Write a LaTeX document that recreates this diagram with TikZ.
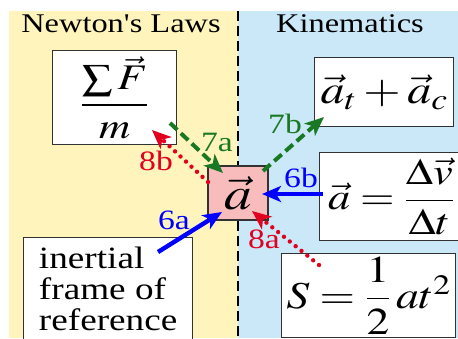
\documentclass[tikz,border=0pt]{standalone}
\usepackage{graphicx}
\usepackage{amsmath}
\usepackage{mathptmx}
\usepackage{fontspec}
\setmainfont{Liberation Serif}
\usetikzlibrary{arrows.meta}
\newcommand{\hs}[1]{\scalebox{1.2}[1]{#1}}
\newcommand{\fs}[1]{\fontsize{#1}{#1}\selectfont}
\definecolor{ybg}{RGB}{255,245,188}
\definecolor{bbg}{RGB}{202,232,248}
\definecolor{pinkbox}{RGB}{248,188,188}
\definecolor{boxline}{RGB}{50,50,50}
\definecolor{arrblue}{RGB}{0,0,255}
\definecolor{arrgreen}{RGB}{25,120,35}
\definecolor{arrred}{RGB}{225,0,30}
\tikzset{
  panel/.style={draw=boxline,line width=1.3pt,fill=white,inner sep=0pt,anchor=north west},
  titletext/.style={font=\fs{27}},
  lbl/.style={font=\fs{28},inner sep=0pt},
  tip/.style={-{Stealth[length=19pt,width=16pt,inset=5pt]}},
  bluearr/.style={draw=arrblue,line width=4.4pt,tip},
  greenarr/.style={draw=arrgreen,line width=4pt,dash pattern=on 10pt off 5pt,tip},
  redarr/.style={draw=arrred,line width=4.4pt,line cap=round,dash pattern=on 0pt off 7.5pt,tip}
}
\begin{document}
\begin{tikzpicture}[x=1pt,y=-1pt]
\useasboundingbox (0,0) rectangle (458,338);
\fill[ybg] (9,11) rectangle (238,338);
\fill[bbg] (238,11) rectangle (458,338);
\draw[line width=2.4pt,dash pattern=on 10pt off 5pt] (238,11) -- (238,338);

\node[titletext] (nl) at (121,24) {\hs{Newton\textquotesingle s Laws}};
\node[titletext] (kin) at (350,24) {\hs{Kinematics}};

\node[panel,minimum width=124pt,minimum height=94pt] (force) at (52,50)
  {\fs{36}\hs{$\dfrac{\sum\vec{F}}{m}$}};
\node[panel,minimum width=139pt,minimum height=69pt] (atac) at (314,57)
  {\fs{40}\hs{$\vec{a}_t+\vec{a}_c$}};
\node[panel,minimum width=143pt,minimum height=88pt] (dv) at (319,152)
  {\fs{37}\hs{$\vec{a}=\dfrac{\Delta\vec{v}}{\Delta t}$}};
\node[panel,minimum width=174pt,minimum height=84pt] (sbox) at (281,253)
  {\fs{38}\hs{$S=\dfrac{1}{2}\,at^2$}};
\node[panel,minimum width=169pt,minimum height=102pt,align=left,font=\fontsize{31}{31}\selectfont] (iner) at (23,237)
  {\hs{inertial}\\\hs{frame of}\\\hs{reference}};
\node[draw=boxline,line width=1.3pt,fill=pinkbox,inner sep=0pt,minimum width=60pt,minimum height=54pt] (acc) at (238,193)
  {\fs{46}\hs{$\vec{a}$}};

\coordinate (s6a) at (158,252);
\coordinate (t6a) at (222,212);
\coordinate (s6b) at (323,194);
\coordinate (t6b) at (262,194);
\coordinate (s7a) at (170,123);
\coordinate (t7a) at (223,173);
\coordinate (s7b) at (263,171);
\coordinate (t7b) at (324,117);
\coordinate (s8a) at (319,265);
\coordinate (t8a) at (252,211);
\coordinate (s8b) at (208,182);
\coordinate (t8b) at (152,130);

\draw[bluearr] (s6a) -- (t6a);
\draw[bluearr] (s6b) -- (t6b);
\draw[greenarr] (s7a) -- (t7a);
\draw[greenarr] (s7b) -- (t7b);
\draw[redarr] (s8a) -- (t8a);
\draw[redarr] (s8b) -- (t8b);

\node[lbl,text=arrblue] (l6a) at (174,220) {\hs{6a}};
\node[lbl,text=arrblue] (l6b) at (301,178) {\hs{6b}};
\node[lbl,text=arrgreen] (l7a) at (217,142) {\hs{7a}};
\node[lbl,text=arrgreen] (l7b) at (285,124) {\hs{7b}};
\node[lbl,text=arrred] (l8a) at (264,239) {\hs{8a}};
\node[lbl,text=arrred] (l8b) at (156,161) {\hs{8b}};
\end{tikzpicture}
\end{document}
